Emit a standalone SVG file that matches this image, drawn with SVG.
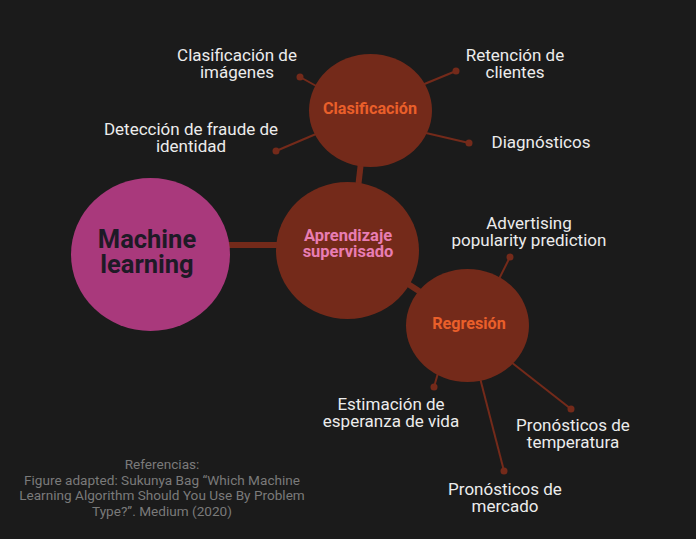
<svg xmlns="http://www.w3.org/2000/svg" width="696" height="539" viewBox="0 0 696 539">
<style>
.bg{fill:#1b1b1b}
.node{fill:#742a1a}
.thick{stroke:#742a1a;stroke-linecap:butt}
.thin{stroke:#742a1a;stroke-width:2}
.dot{fill:#742a1a}
.lbl{font-family:Roboto,"Liberation Sans",sans-serif;font-size:17px;fill:#ececec;text-anchor:middle}
.ref{font-family:Roboto,"Liberation Sans",sans-serif;font-size:13.6px;fill:#7a7a7a;text-anchor:middle}
.nt{font-family:Roboto,"Liberation Sans",sans-serif;font-weight:bold;text-anchor:middle}
</style>
<rect class="bg" x="0" y="0" width="696" height="539"/>
<g id="connectors">
<line class="thick" x1="225" y1="245" x2="280" y2="245" stroke-width="6"/>
<line class="thick" x1="361" y1="162" x2="358" y2="188" stroke-width="6"/>
<line class="thick" x1="405" y1="282" x2="425" y2="295" stroke-width="6"/>
<line class="thin" x1="318" y1="87" x2="300" y2="77"/>
<line class="thin" x1="422" y1="85" x2="456" y2="71"/>
<line class="thin" x1="316" y1="134" x2="276" y2="151"/>
<line class="thin" x1="426" y1="133" x2="469" y2="143"/>
<line class="thin" x1="499" y1="279" x2="510" y2="257"/>
<line class="thin" x1="438" y1="373" x2="434" y2="387"/>
<line class="thin" x1="511" y1="362" x2="571" y2="409"/>
<line class="thin" x1="480" y1="378" x2="504" y2="471"/>
<circle class="dot" cx="300" cy="77" r="3.5"/>
<circle class="dot" cx="456" cy="71" r="3.5"/>
<circle class="dot" cx="276" cy="151" r="3.5"/>
<circle class="dot" cx="469" cy="143" r="3.5"/>
<circle class="dot" cx="510" cy="257" r="3.5"/>
<circle class="dot" cx="434" cy="387" r="3.5"/>
<circle class="dot" cx="571" cy="409" r="3.5"/>
<circle class="dot" cx="504" cy="471" r="3.5"/>
</g>
<g id="ml">
<ellipse cx="150.5" cy="254.5" rx="79.5" ry="76.5" fill="#a9397c"/>
<text class="nt" x="147" y="248" font-size="25.5" fill="#1e1a26">Machine</text>
<text class="nt" x="147" y="273" font-size="25.5" fill="#1e1a26">learning</text>
</g>
<g id="aprendizaje">
<ellipse class="node" cx="347.5" cy="250.5" rx="71.5" ry="68.5"/>
<text class="nt" x="348" y="241" font-size="16.5" fill="#e87db3">Aprendizaje</text>
<text class="nt" x="348" y="257" font-size="16.5" fill="#e87db3">supervisado</text>
</g>
<g id="clasificacion">
<ellipse class="node" cx="370.5" cy="110.5" rx="61.5" ry="56.5"/>
<text class="nt" x="370" y="114" font-size="16.2" fill="#ea5f2a">Clasificación</text>
</g>
<g id="regresion">
<ellipse class="node" cx="467.5" cy="325.5" rx="61.5" ry="56.5"/>
<text class="nt" x="469" y="329" font-size="16.2" fill="#ea5f2a">Regresión</text>
</g>
<g id="leaf-imagenes"><text class="lbl" x="237" y="61">Clasificación de</text><text class="lbl" x="237" y="78">imágenes</text></g>
<g id="leaf-retencion"><text class="lbl" x="515" y="61">Retención de</text><text class="lbl" x="515" y="78">clientes</text></g>
<g id="leaf-fraude"><text class="lbl" x="191" y="135">Detección de fraude de</text><text class="lbl" x="191" y="152">identidad</text></g>
<g id="leaf-diagnosticos"><text class="lbl" x="541" y="148">Diagnósticos</text></g>
<g id="leaf-advertising"><text class="lbl" x="529" y="229">Advertising</text><text class="lbl" x="529" y="246">popularity prediction</text></g>
<g id="leaf-esperanza"><text class="lbl" x="391" y="410">Estimación de</text><text class="lbl" x="391" y="427">esperanza de vida</text></g>
<g id="leaf-temperatura"><text class="lbl" x="573" y="431">Pronósticos de</text><text class="lbl" x="573" y="448">temperatura</text></g>
<g id="leaf-mercado"><text class="lbl" x="505" y="495">Pronósticos de</text><text class="lbl" x="505" y="512">mercado</text></g>
<g id="referencias">
<text class="ref" x="162" y="469">Referencias:</text>
<text class="ref" x="162" y="485">Figure adapted: Sukunya Bag “Which Machine</text>
<text class="ref" x="162" y="500">Learning Algorithm Should You Use By Problem</text>
<text class="ref" x="162" y="516">Type?”. Medium (2020)</text>
</g>
</svg>
